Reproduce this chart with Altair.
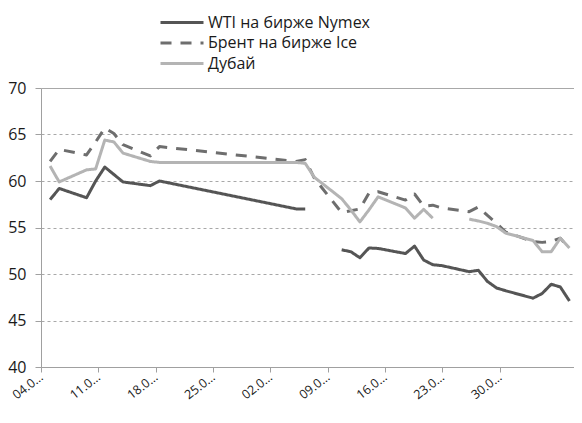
import json
import altair as alt
import pandas as pd

# ---------------- data ----------------
DATES = ["2015-06-04", "2015-06-05", "2015-06-08", "2015-06-09", "2015-06-10",
         "2015-06-11", "2015-06-12", "2015-06-15", "2015-06-16",
         "2015-07-01", "2015-07-02", "2015-07-03", "2015-07-06", "2015-07-07",
         "2015-07-08", "2015-07-09", "2015-07-10", "2015-07-13", "2015-07-14",
         "2015-07-15", "2015-07-16", "2015-07-17", "2015-07-20", "2015-07-21",
         "2015-07-22", "2015-07-23", "2015-07-24", "2015-07-27", "2015-07-28",
         "2015-07-29", "2015-07-30", "2015-07-31"]

WTI = [58.0, 59.2, 58.2, 60.0, 61.5, 60.7, 59.9, 59.5, 60.0,
       57.0, 57.0, None, 52.6, 52.4, 51.75, 52.8, 52.75,
       52.2, 53.0, 51.5, 51.0, 50.9, 50.25, 50.4, 49.2,
       48.5, 48.2, 47.4, 47.9, 48.9, 48.6, 47.1]

BRENT = [62.1, 63.4, 62.8, 64.2, 65.7, 65.1, 63.9, 62.7, 63.7,
         62.1, 62.3, 60.3, 56.6, 56.8, 57.0, 58.7, 58.85,
         57.95, 58.6, 57.3, 57.4, 57.1, 56.7, 57.2, 56.3,
         55.45, 54.5, 53.5, 53.4, 53.5, 53.85, 52.7]

DUBAI = [61.6, 59.9, 61.2, 61.3, 64.4, 64.2, 63.0, 62.1, 62.0,
         62.0, 61.9, 60.4, 58.1, 56.9, 55.6, 56.9, 58.3,
         57.1, 56.0, 56.95, 56.0, None, 55.9, 55.7, 55.45,
         55.1, 54.4, 53.6, 52.4, 52.4, 53.85, 52.8]

SERIES = ["WTI на бирже Nymex", "Брент на бирже Ice", "Дубай"]
COLORS = ["#555555", "#6e6e6e", "#b4b4b4"]
DASHES = [[1, 0], [11, 9], [1, 0]]

TICK_LABELS = ["04.0…", "11.0…", "18.0…", "25.0…", "02.0…",
               "09.0…", "16.0…", "23.0…", "30.0…"]
Y_TICKS = [40, 45, 50, 55, 60, 65, 70]

FONT = "Open Sans"

# ---------------- build long table, splitting lines at missing values ----------------
rows = []
for name, vals in zip(SERIES, [WTI, BRENT, DUBAI]):
    seg = 0
    for d, v in zip(DATES, vals):
        if v is None:
            seg += 1
            continue
        rows.append({"date": d, "price": v, "series": name, "seg": f"{name}-{seg}"})
df = pd.DataFrame(rows)

# x axis of the reference: 9 evenly spaced labels along the date range
START_MS = int(pd.Timestamp("2015-06-03", tz="UTC").timestamp() * 1000)
END_MS = int(pd.Timestamp("2015-07-31T12:00:00", tz="UTC").timestamp() * 1000)
TICK_STEP_MS = (END_MS - START_MS) * 58.0 / 539.3
TICK_VALUES = [START_MS + k * TICK_STEP_MS for k in range(len(TICK_LABELS))]
label_expr = (json.dumps(TICK_LABELS, ensure_ascii=False)
              + f"[round((datum.value - {START_MS}) / {TICK_STEP_MS})]")

legend = alt.Legend(
    title=None, orient="none", legendX=133, legendY=-73.5,
    symbolType="M-4.3,0H4.3", symbolSize=100, symbolStrokeWidth=3,
    labelFont=FONT, labelFontSize=16, labelColor="#1a1a1a",
    labelOffset=18, rowPadding=4.5, labelLimit=400, symbolOffset=0,
)

chart = alt.Chart(df).mark_line(strokeWidth=3, strokeJoin="round", strokeCap="butt").encode(
    x=alt.X("date:T",
            scale=alt.Scale(type="utc", domain=[START_MS, END_MS]),
            axis=alt.Axis(title=None, values=TICK_VALUES, labelExpr=label_expr,
                          grid=False, labelAngle=-38, labelAlign="right",
                          labelBaseline="middle", labelPadding=3,
                          labelFont=FONT, labelFontSize=12.5, labelColor="#1a1a1a",
                          tickSize=5, tickColor="#a0a0a0", domainColor="#a0a0a0",
                          labelOverlap=False, labelFlush=False, labelBound=False)),
    y=alt.Y("price:Q",
            scale=alt.Scale(domain=[40, 70], nice=False, zero=False),
            axis=alt.Axis(title=None, values=Y_TICKS, grid=True,
                          gridColor="#a8a8a8",
                          gridDash={"condition": {"test": "datum.value == 70", "value": []},
                                    "value": [3, 3]},
                          tickSize=6, tickColor="#a0a0a0", domainColor="#a0a0a0",
                          labelPadding=9, labelFont=FONT, labelFontSize=16,
                          labelColor="#1a1a1a")),
    color=alt.Color("series:N", scale=alt.Scale(domain=SERIES, range=COLORS), legend=legend),
    strokeDash=alt.StrokeDash("series:N", scale=alt.Scale(domain=SERIES, range=DASHES), legend=legend),
    detail="seg:N",
).properties(
    width=533, height=279,
    autosize=alt.AutoSizeParams(type="none"),
    padding={"left": 33, "top": 80, "right": 0, "bottom": 40},
).configure_view(stroke=None)

chart.save("out.html", embed_options={"renderer": "svg", "actions": False})
